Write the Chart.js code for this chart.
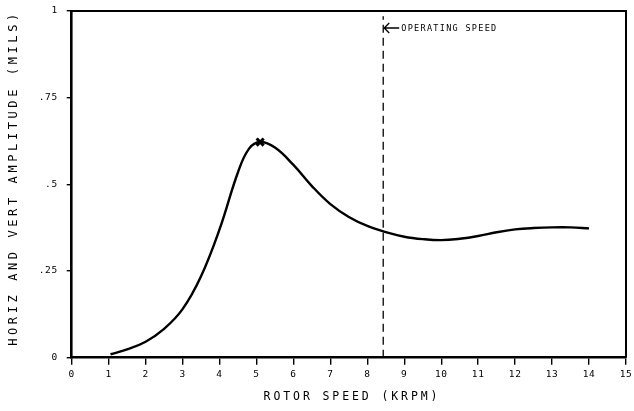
<!DOCTYPE html>
<html>
<head>
<meta charset="utf-8">
<script src="https://cdn.jsdelivr.net/npm/chart.js@4"></script>
<style>
  html, body { margin: 0; padding: 0; background: #fff; }
  #wrap { width: 634px; height: 411px; }
</style>
</head>
<body>
<div id="wrap"><canvas id="rotorChart" width="634" height="411"></canvas></div>
<script>
// ======================================
// ROTOR RESPONSE DATA
// ======================================

const rotorSpeed = [1.05, 1.5, 2, 2.5, 3, 3.5, 4, 4.5, 4.8, 5.1, 5.5, 6, 6.5, 7, 7.5,
                    8, 8.5, 9, 9.5, 10, 10.5, 11, 11.5, 12, 12.5, 13, 13.5, 14];
const amplitude = [0.01, 0.024, 0.046, 0.083, 0.14, 0.235, 0.37, 0.535, 0.603, 0.622, 0.606,
                   0.556, 0.495, 0.443, 0.406, 0.38, 0.362, 0.349, 0.342, 0.339, 0.343, 0.351,
                   0.362, 0.37, 0.374, 0.376, 0.376, 0.373];

const operatingSpeed = 8.43;
const operatingLineTop = 0.985;

const xTicks = [0, 1, 2, 3, 4, 5, 6, 7, 8, 9, 10, 11, 12, 13, 14, 15];
const yTicks = [0, 0.25, 0.5, 0.75, 1];
const yTickLabels = ["0", ".25", ".5", ".75", "1"];

const xTitle = "ROTOR SPEED (KRPM)";
const yTitle = "HORIZ AND VERT AMPLITUDE (MILS)";
const speedNote = "OPERATING SPEED";

const FONT = "'DejaVu Sans Mono', 'Liberation Mono', monospace";

// peak of the response curve gets the X marker
let peakIndex = 0;
amplitude.forEach((v, i) => { if (v > amplitude[peakIndex]) peakIndex = i; });

// ======================================
// FRAME, TITLES AND NOTE
// ======================================

const plotterText = {
    id: "plotterText",
    beforeDraw(chart){
        chart.ctx.letterSpacing = "0.6px";
    },
    afterDraw(chart){
        const ctx = chart.ctx;
        const area = chart.chartArea;
        const xs = chart.scales.x;

        ctx.save();
        ctx.strokeStyle = "#000";

        // top and right edges of the frame
        ctx.lineWidth = 2;
        ctx.beginPath();
        ctx.moveTo(area.left, area.top);
        ctx.lineTo(area.right, area.top);
        ctx.lineTo(area.right, area.bottom);
        ctx.stroke();

        ctx.fillStyle = "#000";

        // x axis title
        ctx.letterSpacing = "2.9px";
        ctx.font = "11.5px " + FONT;
        ctx.textAlign = "center";
        ctx.textBaseline = "middle";
        ctx.fillText(xTitle, 352, 397);

        // y axis title
        ctx.save();
        ctx.translate(14, 178);
        ctx.rotate(-Math.PI / 2);
        ctx.letterSpacing = "3.6px";
        ctx.font = "12px " + FONT;
        ctx.fillText(yTitle, 0, 0);
        ctx.restore();

        // operating speed note with arrow
        const px = xs.getPixelForValue(operatingSpeed);
        const py = 28;
        ctx.lineWidth = 1.3;
        ctx.beginPath();
        ctx.moveTo(px + 1, py);
        ctx.lineTo(px + 16, py);
        ctx.moveTo(px + 6, py - 5);
        ctx.lineTo(px + 1, py);
        ctx.lineTo(px + 6, py + 5);
        ctx.stroke();

        ctx.letterSpacing = "1.3px";
        ctx.font = "8.5px " + FONT;
        ctx.textAlign = "left";
        ctx.fillText(speedNote, px + 18, py + 0.5);

        ctx.restore();
    }
};

// ======================================
// CHART
// ======================================

new Chart(

    document.getElementById("rotorChart"),

    {
        type: "line",

        data: {

            datasets: [

                {
                    label: "Amplitude",
                    data: rotorSpeed.map((x, i) => ({ x: x, y: amplitude[i] })),
                    borderColor: "#000",
                    borderWidth: 2.4,
                    tension: 0.4,
                    pointRadius: 0,
                    fill: false
                },

                {
                    label: "Peak",
                    data: [{ x: rotorSpeed[peakIndex], y: amplitude[peakIndex] }],
                    showLine: false,
                    pointStyle: "crossRot",
                    pointRadius: 5,
                    pointBorderWidth: 3,
                    pointBorderColor: "#000"
                },

                {
                    label: "Operating speed",
                    data: [{ x: operatingSpeed, y: 0 }, { x: operatingSpeed, y: operatingLineTop }],
                    borderColor: "#000",
                    borderWidth: 1.3,
                    borderDash: [8, 5],
                    pointRadius: 0
                }

            ]

        },

        options: {

            responsive: false,
            animation: false,
            devicePixelRatio: 1,

            layout: {
                padding: { left: 0, top: 11, right: 5.7, bottom: 0 }
            },

            plugins: {
                legend: { display: false },
                tooltip: { enabled: false }
            },

            scales: {

                x: {
                    type: "linear",
                    min: xTicks[0],
                    max: xTicks[xTicks.length - 1],
                    afterBuildTicks: s => { s.ticks = xTicks.map(v => ({ value: v })); },
                    afterFit: s => {
                        s.height = 53.3;
                        s.paddingLeft = 0;
                        s.paddingRight = 0;
                    },
                    ticks: {
                        color: "#000",
                        font: { family: FONT, size: 9.5 },
                        padding: 4,
                        maxRotation: 0,
                        autoSkip: false
                    },
                    grid: {
                        drawOnChartArea: false,
                        tickLength: 7,
                        color: "#000",
                        lineWidth: 1.4
                    },
                    border: { display: true, color: "#000", width: 2.6 }
                },

                y: {
                    min: yTicks[0],
                    max: yTicks[yTicks.length - 1],
                    afterBuildTicks: s => { s.ticks = yTicks.map(v => ({ value: v })); },
                    afterFit: s => {
                        s.width = 71.7;
                        s.paddingTop = 0;
                        s.paddingBottom = 0;
                    },
                    ticks: {
                        color: "#000",
                        font: { family: FONT, size: 9.5 },
                        padding: 9,
                        callback: v => yTickLabels[yTicks.indexOf(v)]
                    },
                    grid: {
                        drawOnChartArea: false,
                        tickLength: 5,
                        color: "#000",
                        lineWidth: 1.4
                    },
                    border: { display: true, color: "#000", width: 2.6 }
                }

            }

        },

        plugins: [plotterText]
    }

);
</script>
</body>
</html>
